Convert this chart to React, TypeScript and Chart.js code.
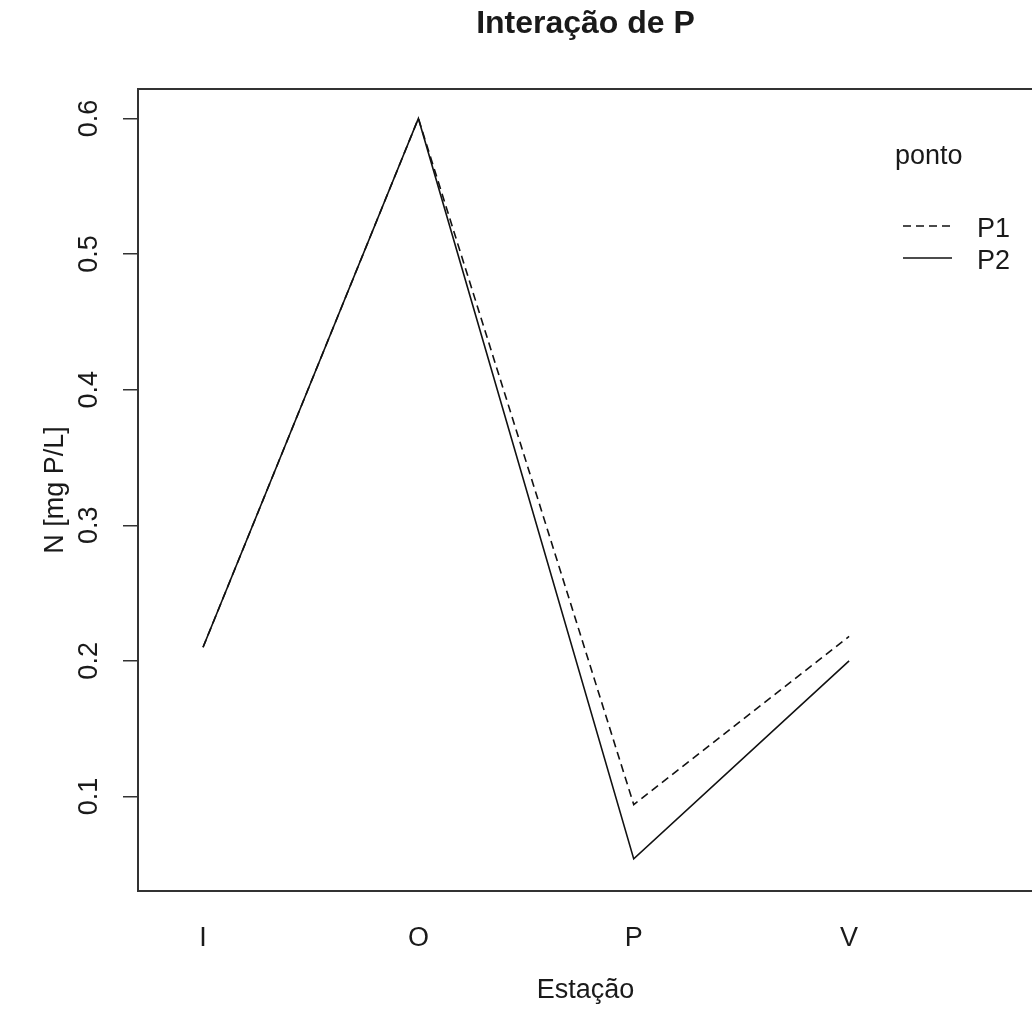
import React, { useEffect, useRef } from 'react';
import { Chart, registerables } from 'chart.js';

Chart.register(...registerables);

// ---- data ----
const categories = ['I', 'O', 'P', 'V'];
const seriesLabels = ['P1', 'P2'];
const p1Values = [0.21, 0.6, 0.094, 0.218];
const p2Values = [0.21, 0.6, 0.054, 0.2];
const yTickValues = [0.1, 0.2, 0.3, 0.4, 0.5, 0.6];
const yRange = [0.0303, 0.6217];
const xRange = [0.698, 4.854];
const chartTitle = 'Interação de P';
const xTitle = 'Estação';
const yTitle = 'N [mg P/L]';
const legendTitle = 'ponto';
const seriesDashes = [[8, 5], []];

const FONT = '"Liberation Sans", Arial, Helvetica, sans-serif';
const INK = '#1a1a1a';
const AXIS = '#333333';
const FS = 27;

export default function App() {
  const ref = useRef<HTMLCanvasElement>(null);

  useEffect(() => {
    const canvas = ref.current;
    if (!canvas) return;

    const rPlotPlugin = {
      id: 'rPlot',
      afterDraw(chart: any) {
        const { ctx, chartArea: a } = chart;
        ctx.save();
        // top border of the box
        ctx.strokeStyle = AXIS;
        ctx.lineWidth = 2;
        ctx.beginPath();
        ctx.moveTo(a.left - 1, a.top);
        ctx.lineTo(a.right + 10, a.top);
        ctx.stroke();

        // rotated y tick labels (R style)
        const ys = chart.scales.y;
        ctx.fillStyle = INK;
        ctx.font = `${FS}px ${FONT}`;
        ctx.textAlign = 'center';
        ctx.textBaseline = 'middle';
        ys.ticks.forEach((t: any) => {
          const py = ys.getPixelForValue(t.value);
          ctx.save();
          ctx.translate(a.left - 48, py);
          ctx.rotate(-Math.PI / 2);
          ctx.fillText(Number(t.value).toFixed(1), 0, 0);
          ctx.restore();
        });

        // legend
        const lx = 895;
        ctx.textAlign = 'left';
        ctx.textBaseline = 'alphabetic';
        ctx.fillText(legendTitle, lx, 164);
        chart.data.datasets.forEach((ds: any, i: number) => {
          const base = 237 + i * 32;
          ctx.save();
          ctx.strokeStyle = ds.borderColor;
          ctx.lineWidth = ds.borderWidth;
          ctx.setLineDash(ds.borderDash || []);
          ctx.beginPath();
          ctx.moveTo(lx + 8, base - 11);
          ctx.lineTo(lx + 57, base - 11);
          ctx.stroke();
          ctx.restore();
          ctx.fillText(ds.label, lx + 82, base);
        });
        ctx.restore();
      },
    };

    const chart = new Chart(canvas, {
      type: 'line',
      data: {
        datasets: [p1Values, p2Values].map((vals, s) => ({
          label: seriesLabels[s],
          data: categories.map((_, i) => ({ x: i + 1, y: vals[i] })),
          borderColor: '#111111',
          borderWidth: 1.6,
          borderDash: seriesDashes[s],
          pointRadius: 0,
          tension: 0,
          fill: false,
        })),
      },
      options: {
        animation: false,
        responsive: false,
        maintainAspectRatio: false,
        layout: { padding: { left: 0, right: 7, top: 0, bottom: 0 } },
        plugins: {
          legend: { display: false },
          tooltip: { enabled: false },
          title: {
            display: true,
            text: chartTitle,
            fullSize: false,
            color: INK,
            font: { family: FONT, size: 32, weight: 'bold' },
            padding: { top: 5, bottom: 45.6 },
          },
        },
        scales: {
          x: {
            type: 'linear',
            min: xRange[0],
            max: xRange[1],
            afterBuildTicks: (s: any) => {
              s.ticks = categories.map((_, i) => ({ value: i + 1 }));
            },
            afterFit: (s: any) => {
              s.height = 128;
            },
            ticks: {
              callback: (v: any) => categories[Math.round(Number(v)) - 1] ?? '',
              font: { family: FONT, size: FS },
              color: INK,
              padding: 31,
              maxRotation: 0,
              autoSkip: false,
            },
            grid: { display: false, drawTicks: false },
            border: { display: true, color: AXIS, width: 2 },
            title: {
              display: true,
              text: xTitle,
              color: INK,
              font: { family: FONT, size: FS },
              padding: { top: 0, bottom: 12 },
            },
          },
          y: {
            type: 'linear',
            min: yRange[0],
            max: yRange[1],
            afterBuildTicks: (s: any) => {
              s.ticks = yTickValues.map((v) => ({ value: v }));
            },
            afterFit: (s: any) => {
              s.width = 138;
            },
            ticks: { display: false },
            grid: {
              display: true,
              drawOnChartArea: false,
              drawTicks: true,
              tickLength: 15,
              color: AXIS,
              lineWidth: 1.5,
            },
            border: { display: true, color: AXIS, width: 2 },
            title: {
              display: true,
              text: yTitle,
              color: INK,
              font: { family: FONT, size: FS },
              padding: { top: 39, bottom: 0 },
            },
          },
        },
      },
      plugins: [rPlotPlugin],
    } as any);

    return () => chart.destroy();
  }, []);

  return (
    <div
      style={{
        position: 'fixed',
        left: 0,
        top: 0,
        width: 1032,
        height: 1019,
        overflow: 'hidden',
        background: '#ffffff',
      }}
    >
      <canvas ref={ref} width={1040} height={1019} style={{ display: 'block' }} />
    </div>
  );
}
